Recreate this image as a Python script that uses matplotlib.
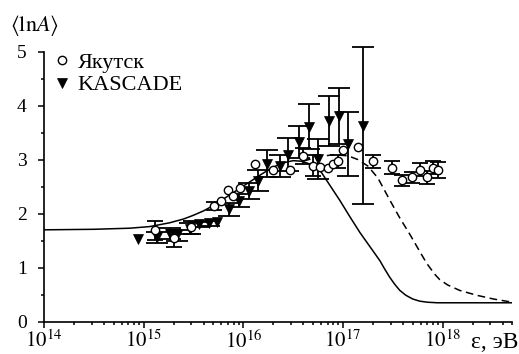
import numpy as np
import matplotlib
matplotlib.use("Agg")
import matplotlib.pyplot as plt
from matplotlib.ticker import LogLocator, MultipleLocator, NullFormatter

plt.rcParams["font.family"] = ["Liberation Serif", "DejaVu Serif"]
plt.rcParams["mathtext.fontset"] = "stix"

# Якутск: log10(E), <lnA>, ошибка
yak_logE = [15.11, 15.30, 15.47, 15.71, 15.78, 15.85, 15.90, 15.97, 16.12, 16.30,
            16.47, 16.60, 16.70, 16.77, 16.85, 16.90, 16.95, 17.00, 17.15, 17.30,
            17.49, 17.59, 17.69, 17.77, 17.84, 17.90, 17.95]
yak_lnA = [1.69, 1.54, 1.75, 2.14, 2.24, 2.44, 2.33, 2.47, 2.92, 2.80,
           2.80, 3.06, 2.89, 2.86, 2.84, 2.92, 2.97, 3.18, 3.23, 2.97,
           2.85, 2.62, 2.67, 2.81, 2.67, 2.85, 2.80]
yak_err = [0.17, 0.15, 0.12, 0.08, 0.0, 0.0, 0.0, 0.0, 0.0, 0.0,
           0.0, 0.15, 0.20, 0.0, 0.0, 0.0, 0.12, 0.0, 0.0, 0.12,
           0.12, 0.10, 0.10, 0.12, 0.12, 0.12, 0.15]

# KASCADE
kas_logE = [14.94, 15.13, 15.26, 15.33, 15.46, 15.56, 15.66, 15.74, 15.86, 15.96,
            16.06, 16.15, 16.24, 16.37, 16.45, 16.56, 16.66, 16.75, 16.86, 16.96,
            17.05, 17.20]
kas_lnA = [1.53, 1.56, 1.63, 1.60, 1.72, 1.80, 1.82, 1.84, 2.08, 2.24,
           2.42, 2.61, 2.92, 2.88, 3.09, 3.32, 3.61, 3.01, 3.71, 3.81,
           3.29, 3.63]
kas_err = [0.0, 0.10, 0.10, 0.10, 0.10, 0.05, 0.05, 0.0, 0.12, 0.12,
           0.15, 0.20, 0.25, 0.20, 0.31, 0.30, 0.42, 0.37, 0.46, 0.52,
           0.59, 1.45]

# расчётные кривые
solid_logE = [14.0, 14.5, 14.86, 15.06, 15.26, 15.4, 15.5, 15.6, 15.7, 15.8,
              15.9, 16.0, 16.1, 16.2, 16.3, 16.4, 16.5, 16.58, 16.65, 16.72,
              16.77, 16.87, 16.97, 17.07, 17.17, 17.27, 17.37, 17.42, 17.47, 17.52,
              17.57, 17.63, 17.7, 17.77, 17.85, 17.95, 18.7]
solid_lnA = [1.70, 1.71, 1.73, 1.76, 1.83, 1.90, 1.97, 2.05, 2.15, 2.27,
             2.39, 2.51, 2.63, 2.75, 2.86, 2.94, 2.98, 2.97, 2.93, 2.86,
             2.80, 2.52, 2.24, 1.94, 1.65, 1.39, 1.13, 0.97, 0.82, 0.69,
             0.58, 0.49, 0.42, 0.38, 0.36, 0.35, 0.35]
dash_logE = [16.6, 16.75, 16.9, 17.05, 17.15, 17.25, 17.35, 17.47, 17.57, 17.67,
             17.77, 17.84, 17.92, 17.97, 18.05, 18.17, 18.34, 18.51, 18.7]
dash_lnA = [2.97, 3.05, 3.09, 3.07, 3.00, 2.88, 2.66, 2.25, 1.92, 1.62,
            1.30, 1.08, 0.88, 0.78, 0.68, 0.58, 0.49, 0.42, 0.36]

W, H = 519, 354
fig = plt.figure(figsize=(W / 100, H / 100), dpi=100)
ax = fig.add_axes([44 / W, 1 - 321.7 / H, (512.3 - 44) / W, (321.7 - 51.5) / H])

ax.plot(10 ** np.array(solid_logE), solid_lnA, color="black", lw=1.1, zorder=2)
ax.plot(10 ** np.array(dash_logE), dash_lnA, color="black", lw=1.1, ls=(0, (5, 3)), zorder=2)


def draw(logE, val, err, marker, ms, cap, label):
    x = 10 ** np.array(logE)
    y = np.array(val)
    e = np.array(err)
    m = e > 0
    eb = ax.errorbar(x[m], y[m], yerr=e[m], fmt="none", ecolor="black",
                     elinewidth=1.3, capsize=cap, capthick=1.3, zorder=3)
    for art in eb.lines[1] + eb.lines[2]:
        art.set_clip_on(False)
    if marker == "o":
        return ax.plot(x, y, "o", ms=ms, mfc="white", mec="black", mew=1.0,
                       zorder=4, label=label)[0]
    return ax.plot(x, y, marker, ms=ms, mfc="black", mec="black", mew=0.5,
                   zorder=4, label=label)[0]


h_kas = draw(kas_logE, kas_lnA, kas_err, "v", 7, 8, "KASCADE")
h_yak = draw(yak_logE, yak_lnA, yak_err, "o", 6, 6, "Якутск")

ax.set_xscale("log")
ax.set_xlim(1e14, 5e18)
ax.set_ylim(0, 5)
ax.xaxis.set_minor_locator(LogLocator(base=10, subs=np.arange(2, 10), numticks=20))
ax.xaxis.set_minor_formatter(NullFormatter())
ax.set_xticks([1e14, 1e15, 1e16, 1e17, 1e18])
ax.set_xticklabels([r"$10^{14}$", r"$10^{15}$", r"$10^{16}$", r"$10^{17}$", r"$10^{18}$"])
ax.yaxis.set_major_locator(MultipleLocator(1))
ax.yaxis.set_minor_locator(MultipleLocator(0.5))

for s in ["top", "right"]:
    ax.spines[s].set_visible(False)
for s in ["left", "bottom"]:
    ax.spines[s].set_linewidth(1.2)
ax.tick_params(which="major", direction="out", length=4.5, width=1.1, pad=2)
ax.tick_params(which="minor", direction="out", length=2.5, width=1.1)
ax.tick_params(axis="y", which="major", labelsize=14, pad=8)
ax.tick_params(axis="x", which="major", labelsize=15)

fig.text(10 / W, 1 - 25 / H, r"$\langle\mathrm{ln}A\rangle$", fontsize=16, ha="left", va="center")
fig.text(518 / W, 1 - 343 / H, "ε, эВ", fontsize=17, ha="right", va="center")

ax.legend([h_yak, h_kas], ["Якутск", "KASCADE"], loc="upper left",
          bbox_to_anchor=(51 / W, 1 - 52 / H), bbox_transform=fig.transFigure,
          frameon=False, fontsize=16, handlelength=1.0, handletextpad=0.2,
          labelspacing=0.1, borderpad=0, borderaxespad=0)

fig.savefig("out.png", dpi=100)
